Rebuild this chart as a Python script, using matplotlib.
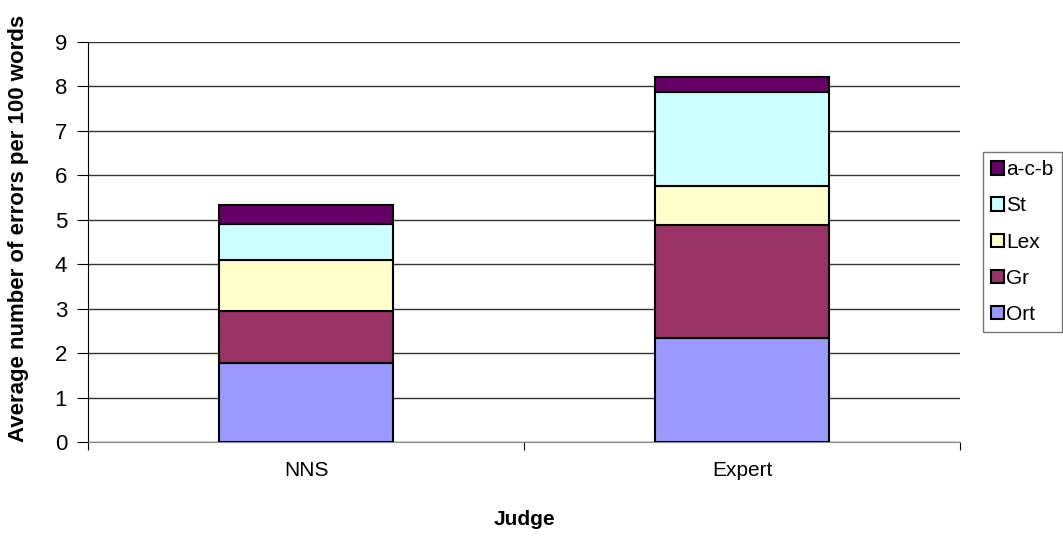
from matplotlib import pyplot as plt
from matplotlib.patches import Patch

judges = ["NNS", "Expert"]
categories = ["Ort", "Gr", "Lex", "St", "a-c-b"]
ort = [1.77, 2.33]
gr = [1.18, 2.55]
lex = [1.14, 0.87]
st = [0.81, 2.12]
acb = [0.43, 0.34]
colors = ["#9999FF", "#993366", "#FFFFCC", "#CCFFFF", "#660066"]

plt.rcParams["font.family"] = ["Liberation Sans", "DejaVu Sans"]

fig = plt.figure(figsize=(10.63, 5.58), dpi=100)
ax = fig.add_axes([88 / 1063, 1 - 442 / 558, 872 / 1063, 400 / 558])

x = list(range(len(judges)))
bottom = [0.0, 0.0]
for vals, col in zip([ort, gr, lex, st, acb], colors):
	ax.bar(x, vals, width=0.4, bottom=bottom, color=col, edgecolor="black", linewidth=1.5, zorder=3)
	bottom = [b + v for b, v in zip(bottom, vals)]

ax.set_xlim(-0.5, 1.5)
ax.set_ylim(0, 9)
ax.set_yticks(range(10))
ax.yaxis.grid(True, color="#333333", linewidth=1, zorder=0)
# category names sit between the slot-boundary ticks
ax.set_xticks([-0.5, 0.5, 1.5])
ax.set_xticklabels([])
ax.set_xticks(x, minor=True)
ax.set_xticklabels(judges, minor=True, fontsize=15)
ax.tick_params(axis="x", which="minor", length=0, pad=14)
ax.tick_params(axis="x", which="major", length=6, direction="out")
ax.tick_params(axis="y", length=8, direction="out", labelsize=16, pad=7)

for side in ["top", "right"]:
	ax.spines[side].set_visible(False)
ax.spines["left"].set_color("black")
ax.spines["bottom"].set_color("#888888")

ax.set_ylabel("Average number of errors per 100 words", fontsize=16, fontweight="bold")
ax.yaxis.set_label_coords(-0.068, 0.535)
ax.set_xlabel("Judge", fontsize=15, fontweight="bold")
ax.xaxis.set_label_coords(0.5, -0.17)

handles = [Patch(facecolor=c, edgecolor="black", linewidth=1.5, label=l) for c, l in zip(colors, categories)]
handles.reverse()
leg = fig.legend(handles=handles, loc="upper left", bbox_to_anchor=(983 / 1063, 1 - 152 / 558),
	frameon=True, fancybox=False, edgecolor="#555555", fontsize=15,
	handlelength=0.6, handleheight=0.6, handletextpad=0.1, labelspacing=0.82, borderpad=0.4, borderaxespad=0)
leg.get_frame().set_linewidth(1)

fig.savefig("out.png", dpi=100)
